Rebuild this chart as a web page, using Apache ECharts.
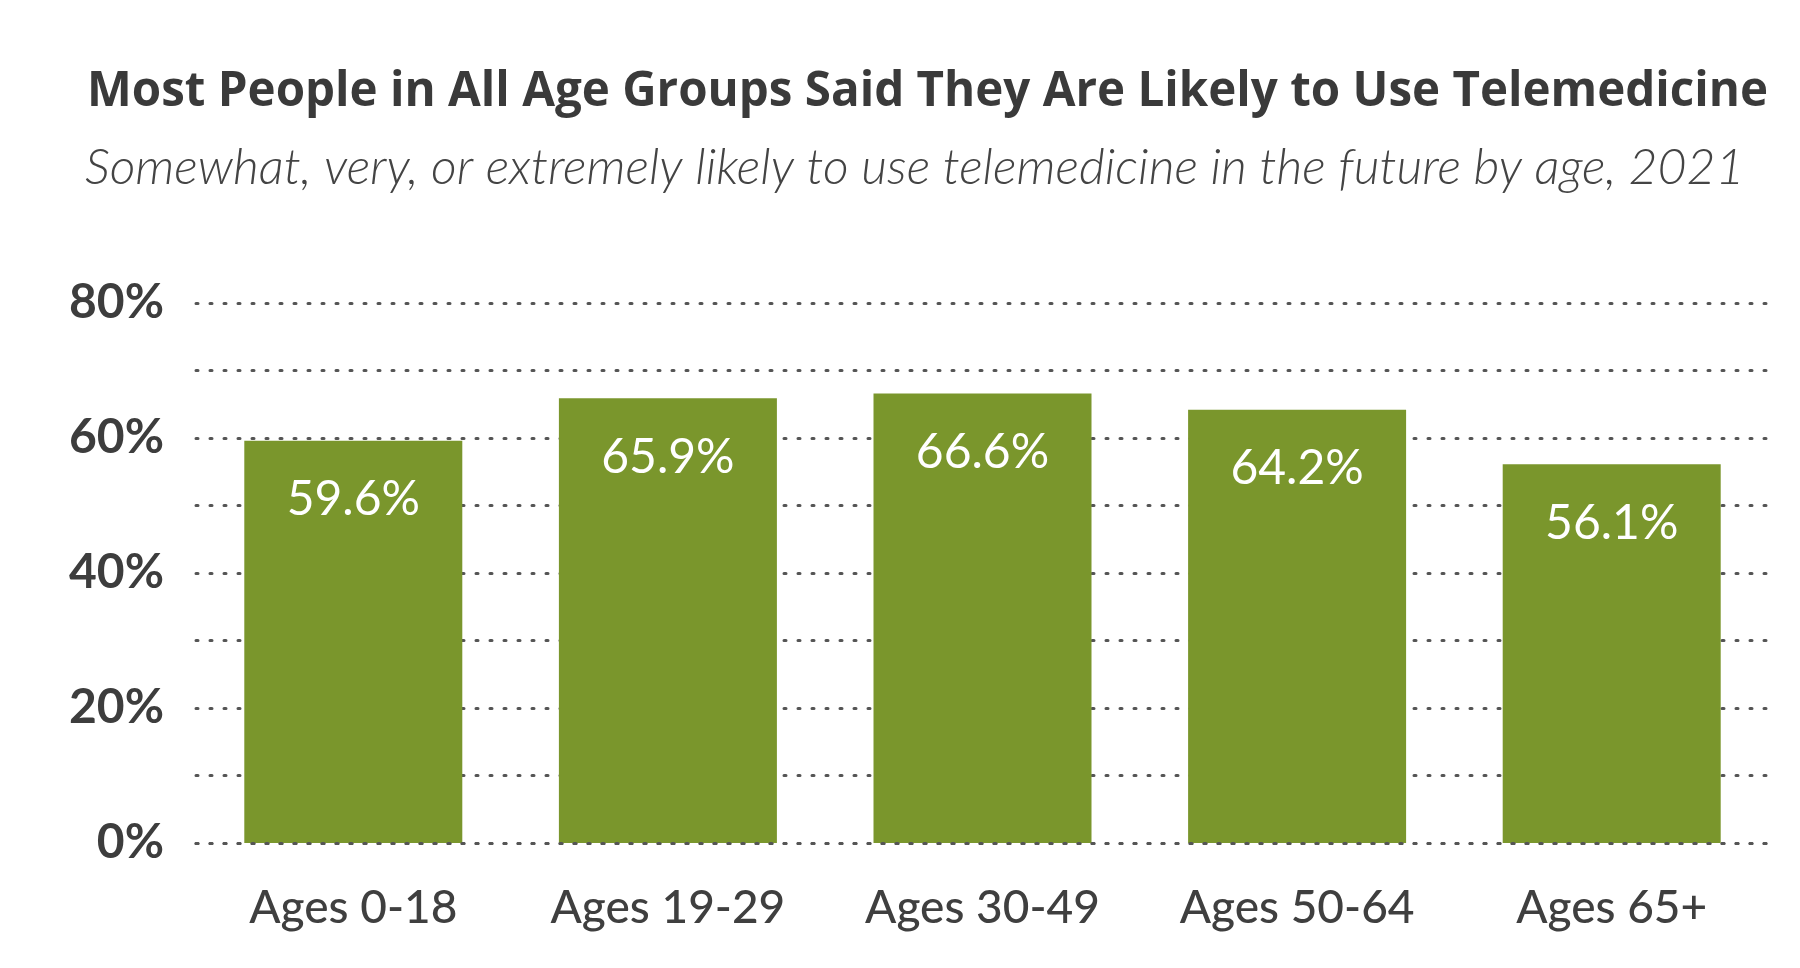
<!DOCTYPE html>
<html>
<head>
<meta charset="utf-8">
<script src="https://cdn.jsdelivr.net/npm/echarts@6/dist/echarts.min.js"></script>
<style>
html,body{margin:0;padding:0;background:#fff;}
#chart{width:1800px;height:968px;}
</style>
</head>
<body>
<div id="chart"></div>
<script>
const categories = ['Ages 0-18', 'Ages 19-29', 'Ages 30-49', 'Ages 50-64', 'Ages 65+'];
const values = [59.6, 65.9, 66.6, 64.2, 56.1];
const yTickLabels = ['0%', '20%', '40%', '60%', '80%'];

const chart = echarts.init(document.getElementById('chart'));
chart.setOption({
  backgroundColor: '#ffffff',
  animation: false,
  title: [
    {
      text: 'Most People in All Age Groups Said They Are Likely to Use Telemedicine',
      left: 82, top: 63,
      textStyle: { fontFamily: 'Open Sans', fontWeight: 'bold', fontSize: 47.5, color: '#3a3a3a' }
    },
    {
      text: 'Somewhat, very, or extremely likely to use telemedicine in the future by age, 2021',
      left: 80, top: 138,
      textStyle: { fontFamily: 'Lato', fontStyle: 'italic', fontWeight: 300, fontSize: 50, color: '#444444' }
    }
  ],
  grid: { left: 196, right: 31, top: 303, bottom: 125, containLabel: false },
  xAxis: {
    type: 'category',
    data: categories,
    axisTick: { show: false },
    axisLine: { show: true, lineStyle: { color: '#555555', width: 3, type: [2, 12], cap: 'round' } },
    axisLabel: { margin: 42, fontFamily: 'Lato', fontWeight: 500, fontSize: 46, color: '#3f3f3f' },
    z: 5
  },
  yAxis: {
    type: 'value',
    min: 0, max: 80, interval: 10,
    axisLine: { show: false },
    axisTick: { show: false },
    splitLine: { show: true, lineStyle: { color: '#555555', width: 3, type: [2, 12], cap: 'round' } },
    axisLabel: {
      margin: 32,
      fontFamily: 'Lato', fontWeight: 'bold', fontSize: 48, color: '#3d3d3d',
      formatter: function (v) {
        const idx = yTickLabels.indexOf(v + '%');
        return v % 20 === 0 && idx >= 0 ? yTickLabels[idx] : '';
      }
    }
  },
  series: [{
    type: 'bar',
    data: values,
    barWidth: 218,
    itemStyle: { color: '#7a962c' },
    label: {
      show: true,
      position: 'insideTop',
      distance: 35,
      formatter: function (p) { return p.value.toFixed(1) + '%'; },
      fontFamily: 'Lato', fontWeight: 400, fontSize: 48, color: '#ffffff'
    }
  }]
});
</script>
</body>
</html>
